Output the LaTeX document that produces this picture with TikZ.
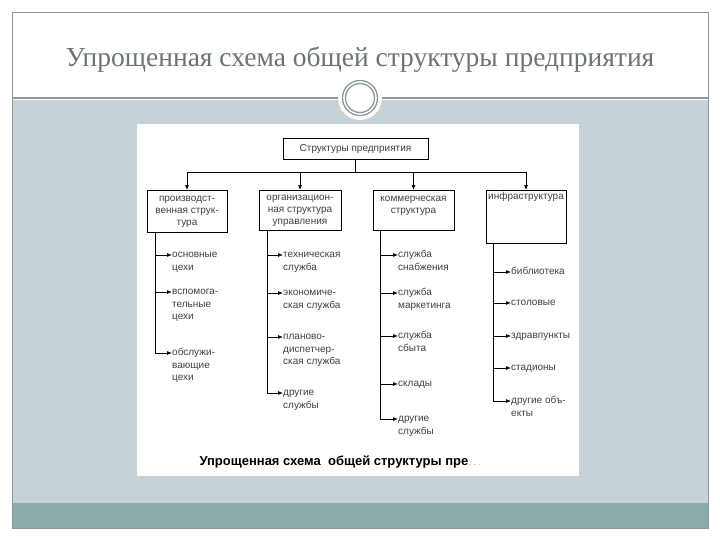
\documentclass[tikz,border=0pt]{standalone}
\usepackage{fontspec}
\setmainfont{Liberation Serif}
\setsansfont{Liberation Sans}
\usepackage{xcolor}
\usetikzlibrary{arrows.meta,positioning,calc}
\definecolor{slidegray}{HTML}{C6D2D6}
\definecolor{slideteal}{HTML}{8AABAA}
\definecolor{slideline}{HTML}{8A9897}
\definecolor{titlegray}{HTML}{6B7472}
\definecolor{itemgray}{HTML}{404040}
\tikzstyle{sbox}   = [rectangle, draw, line width=0.9pt, align=center,
                      inner sep=2pt, anchor=north, text=itemgray,
                      font=\sffamily\fontsize{10}{12}\selectfont]
\tikzstyle{sitem}  = [anchor=north west, align=left, inner sep=0pt,
                      text=itemgray, font=\sffamily\fontsize{10}{12.5}\selectfont]
\tikzstyle{sarrow} = [-{Latex[length=1.7mm,width=1.3mm]}, line width=0.6pt]
\tikzstyle{sline}  = [line width=0.6pt]

\begin{document}
\begin{tikzpicture}[x=1pt,y=-1pt]
\useasboundingbox (0,0) rectangle (720,540);
% slide
\fill[slidegray] (12,100) rectangle (708,503);
\fill[slideteal] (12,503) rectangle (708,528);
\draw[slideline, line width=0.6pt] (12,12) rectangle (708,528);
\draw[slideline, line width=1.2pt] (12,98) -- (708,98);
\node[font=\fontsize{27.5}{32}\selectfont, text=titlegray] (title) at (360,60)
  {Упрощенная схема общей структуры предприятия};
\fill[white] (360,98) circle (22);
\draw[slideline, line width=1.3pt] (360,98) circle (17.5);
\draw[slideline, line width=1.3pt] (360,98) circle (14.5);
% picture
\fill[white] (137,124) rectangle (579,476);
% boxes
\node[sbox, minimum width=145pt, minimum height=21pt] (top) at (355.5,138)
  {Структуры предприятия};
\node[sbox, minimum width=80pt, minimum height=42pt] (prod) at (187,190)
  {производст-\\венная струк-\\тура};
\node[sbox, minimum width=82pt, minimum height=40pt] (org) at (300,190)
  {организацион-\\ная структура\\управления};
\node[sbox, minimum width=81pt, minimum height=40pt] (comm) at (413.5,190)
  {коммерческая\\структура\\\mbox{}};
\node[sbox, minimum width=80pt, text depth=42pt] (infra) at (526,190)
  {инфраструктура};
% bus
\coordinate (bus) at (355.5,172);
\draw[sline] (top) -- (bus);
\draw[sline] (prod.north |- bus) -- (infra.north |- bus);
\draw[sarrow] (prod.north |- bus) -- (prod);
\draw[sarrow] (org.north |- bus) -- (org);
\draw[sarrow] (comm.north |- bus) -- (comm);
\draw[sarrow] (infra.north |- bus) -- (infra);
% production
\coordinate (l1) at ([xshift=9pt]prod.south west);
\node[sitem] (c11) at (172,249) {\strut основные\\цехи};
\node[sitem] (c12) at (172,286) {\strut вспомога-\\тельные\\цехи};
\node[sitem] (c13) at (172,347) {\strut обслужи-\\вающие\\цехи};
\draw[sarrow] ([yshift=-6pt]c11.north west -| l1) -- ([yshift=-6pt]c11.north west);
\draw[sarrow] ([yshift=-6pt]c12.north west -| l1) -- ([yshift=-6pt]c12.north west);
\draw[sarrow] (l1) |- ([yshift=-6pt]c13.north west);
% management
\coordinate (l2) at ([xshift=9pt]org.south west);
\node[sitem] (c21) at (283,249) {\strut техническая\\служба};
\node[sitem] (c22) at (283,287) {\strut экономиче-\\ская служба};
\node[sitem] (c23) at (283,331) {\strut планово-\\диспетчер-\\ская служба};
\node[sitem] (c24) at (283,387) {\strut другие\\службы};
\draw[sarrow] ([yshift=-6pt]c21.north west -| l2) -- ([yshift=-6pt]c21.north west);
\draw[sarrow] ([yshift=-6pt]c22.north west -| l2) -- ([yshift=-6pt]c22.north west);
\draw[sarrow] ([yshift=-6pt]c23.north west -| l2) -- ([yshift=-6pt]c23.north west);
\draw[sarrow] (l2) |- ([yshift=-6pt]c24.north west);
% commerce
\coordinate (l3) at ([xshift=8pt]comm.south west);
\node[sitem] (c31) at (398,249) {\strut служба\\снабжения};
\node[sitem] (c32) at (398,287) {\strut служба\\маркетинга};
\node[sitem] (c33) at (398,330) {\strut служба\\сбыта};
\node[sitem] (c34) at (398,378) {\strut склады};
\node[sitem] (c35) at (398,413) {\strut другие\\службы};
\draw[sarrow] ([yshift=-6pt]c31.north west -| l3) -- ([yshift=-6pt]c31.north west);
\draw[sarrow] ([yshift=-6pt]c32.north west -| l3) -- ([yshift=-6pt]c32.north west);
\draw[sarrow] ([yshift=-6pt]c33.north west -| l3) -- ([yshift=-6pt]c33.north west);
\draw[sarrow] ([yshift=-6pt]c34.north west -| l3) -- ([yshift=-6pt]c34.north west);
\draw[sarrow] (l3) |- ([yshift=-6pt]c35.north west);
% infrastructure
\coordinate (l4) at ([xshift=8pt]infra.south west);
\node[sitem] (c41) at (511,266) {\strut библиотека};
\node[sitem] (c42) at (511,297) {\strut столовые};
\node[sitem] (c43) at (511,330) {\strut здравпункты};
\node[sitem] (c44) at (511,362) {\strut стадионы};
\node[sitem] (c45) at (511,395) {\strut другие объ-\\екты};
\draw[sarrow] ([yshift=-6pt]c41.north west -| l4) -- ([yshift=-6pt]c41.north west);
\draw[sarrow] ([yshift=-6pt]c42.north west -| l4) -- ([yshift=-6pt]c42.north west);
\draw[sarrow] ([yshift=-6pt]c43.north west -| l4) -- ([yshift=-6pt]c43.north west);
\draw[sarrow] ([yshift=-6pt]c44.north west -| l4) -- ([yshift=-6pt]c44.north west);
\draw[sarrow] (l4) |- ([yshift=-6pt]c45.north west);
% caption
\node[anchor=west, font=\sffamily\bfseries\fontsize{13}{15}\selectfont] (cap) at (196,462)
  {Упрощенная схема \ общей структуры пре\textcolor{gray}{\mdseries\footnotesize. . .}};
\end{tikzpicture}
\end{document}
